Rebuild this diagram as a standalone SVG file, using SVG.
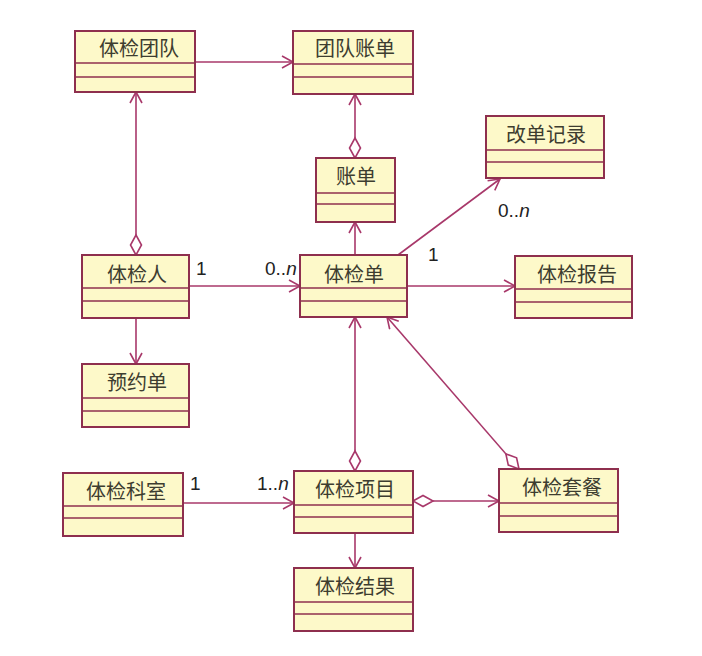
<svg xmlns="http://www.w3.org/2000/svg" width="702" height="656" viewBox="0 0 702 656">
<style>
.box{fill:#fdf9c9;stroke:#8e2f4e;stroke-width:2}
.div{stroke:#8e2f4e;stroke-width:1.6}
.nm{font-family:"Noto Sans CJK SC","Noto Sans",sans-serif;font-size:20px;fill:#3d3d30;text-anchor:middle}
.ln{fill:none;stroke:#a8386a;stroke-width:1.6}
.lab{font-family:"Liberation Sans",Arial,sans-serif;font-size:19px;fill:#222}
</style>
<defs>
<marker id="arr" markerUnits="userSpaceOnUse" markerWidth="14" markerHeight="14" refX="12" refY="7" orient="auto" viewBox="0 0 14 14">
<path d="M1,1 L12,7 L1,13" fill="none" stroke="#a8386a" stroke-width="1.6"/>
</marker>
<marker id="dia" markerUnits="userSpaceOnUse" markerWidth="24" markerHeight="14" refX="1" refY="7" orient="auto" viewBox="0 0 24 14">
<path d="M1,7 L11,1.5 L21,7 L11,12.5 Z" fill="#fff" stroke="#a8386a" stroke-width="1.6"/>
</marker>
</defs>
<rect width="702" height="656" fill="#fff"/>
<g id="connectors">
<path class="ln" d="M195,62 L293,62" marker-end="url(#arr)"/>
<path class="ln" d="M355,158 L355,94" marker-start="url(#dia)" marker-end="url(#arr)"/>
<path class="ln" d="M136,255 L136,92" marker-start="url(#dia)" marker-end="url(#arr)"/>
<path class="ln" d="M189,286 L300,286" marker-end="url(#arr)"/>
<path class="ln" d="M355,255 L355,222" marker-end="url(#arr)"/>
<path class="ln" d="M398,255 L500,179" marker-end="url(#arr)"/>
<path class="ln" d="M407,286 L515,286" marker-end="url(#arr)"/>
<path class="ln" d="M136,318 L136,364" marker-end="url(#arr)"/>
<path class="ln" d="M355,471 L355,317" marker-start="url(#dia)" marker-end="url(#arr)"/>
<path class="ln" d="M519,469 L387,317" marker-start="url(#dia)" marker-end="url(#arr)"/>
<path class="ln" d="M183,503 L294,503" marker-end="url(#arr)"/>
<path class="ln" d="M413,501 L499,501" marker-start="url(#dia)" marker-end="url(#arr)"/>
<path class="ln" d="M355,533 L355,568" marker-end="url(#arr)"/>
<text class="lab" x="196" y="275">1</text>
<text class="lab" x="265" y="275">0..<tspan font-style="italic">n</tspan></text>
<text class="lab" x="428" y="261">1</text>
<text class="lab" x="498" y="217">0..<tspan font-style="italic">n</tspan></text>
<text class="lab" x="190" y="490">1</text>
<text class="lab" x="257" y="490">1..<tspan font-style="italic">n</tspan></text>
</g>
<g id="tijiantuandui"><rect class="box" x="75" y="31" width="120" height="61"/><line class="div" x1="75" y1="63" x2="195" y2="63"/><line class="div" x1="75" y1="77" x2="195" y2="77"/><text class="nm" x="139" y="56">体检团队</text></g>
<g id="tuanduizhangdan"><rect class="box" x="293" y="31" width="120" height="63"/><line class="div" x1="293" y1="64" x2="413" y2="64"/><line class="div" x1="293" y1="77" x2="413" y2="77"/><text class="nm" x="355" y="56">团队账单</text></g>
<g id="zhangdan"><rect class="box" x="316" y="158" width="79" height="64"/><line class="div" x1="316" y1="193" x2="395" y2="193"/><line class="div" x1="316" y1="204" x2="395" y2="204"/><text class="nm" x="356" y="184">账单</text></g>
<g id="gaidanjilu"><rect class="box" x="486" y="116" width="118" height="62"/><line class="div" x1="486" y1="150" x2="604" y2="150"/><line class="div" x1="486" y1="162" x2="604" y2="162"/><text class="nm" x="546" y="142">改单记录</text></g>
<g id="tijianren"><rect class="box" x="82" y="255" width="107" height="63"/><line class="div" x1="82" y1="288" x2="189" y2="288"/><line class="div" x1="82" y1="301" x2="189" y2="301"/><text class="nm" x="137" y="282">体检人</text></g>
<g id="tijiandan"><rect class="box" x="300" y="255" width="107" height="62"/><line class="div" x1="300" y1="288" x2="407" y2="288"/><line class="div" x1="300" y1="301" x2="407" y2="301"/><text class="nm" x="354" y="282">体检单</text></g>
<g id="tijianbaogao"><rect class="box" x="515" y="256" width="117" height="62"/><line class="div" x1="515" y1="289" x2="632" y2="289"/><line class="div" x1="515" y1="302" x2="632" y2="302"/><text class="nm" x="577" y="282">体检报告</text></g>
<g id="yuyuedan"><rect class="box" x="82" y="364" width="107" height="63"/><line class="div" x1="82" y1="398" x2="189" y2="398"/><line class="div" x1="82" y1="411" x2="189" y2="411"/><text class="nm" x="137" y="390">预约单</text></g>
<g id="tijiankeshi"><rect class="box" x="63" y="473" width="120" height="63"/><line class="div" x1="63" y1="506" x2="183" y2="506"/><line class="div" x1="63" y1="518" x2="183" y2="518"/><text class="nm" x="126" y="499">体检科室</text></g>
<g id="tijianxiangmu"><rect class="box" x="294" y="471" width="119" height="62"/><line class="div" x1="294" y1="505" x2="413" y2="505"/><line class="div" x1="294" y1="517" x2="413" y2="517"/><text class="nm" x="355" y="497">体检项目</text></g>
<g id="tijiantaocan"><rect class="box" x="499" y="469" width="119" height="63"/><line class="div" x1="499" y1="503" x2="618" y2="503"/><line class="div" x1="499" y1="516" x2="618" y2="516"/><text class="nm" x="562" y="495">体检套餐</text></g>
<g id="tijianjieguo"><rect class="box" x="294" y="568" width="119" height="63"/><line class="div" x1="294" y1="602" x2="413" y2="602"/><line class="div" x1="294" y1="614" x2="413" y2="614"/><text class="nm" x="355" y="594">体检结果</text></g>
</svg>
